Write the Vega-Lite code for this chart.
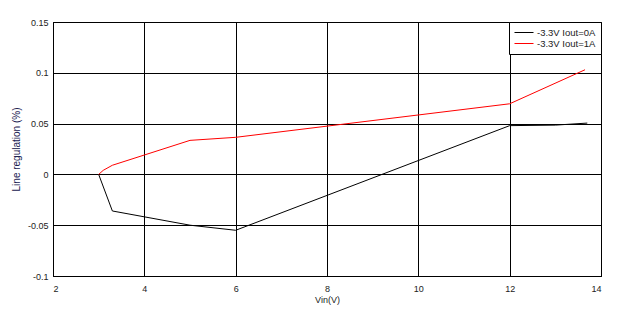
{
  "$schema": "https://vega.github.io/schema/vega-lite/v6.json",
  "width": 548,
  "height": 254,
  "autosize": "none",
  "padding": {"left": 53, "top": 22, "right": 21, "bottom": 42},
  "background": "white",
  "config": {
    "font": "Liberation Sans",
    "view": {"stroke": "black", "strokeWidth": 1},
    "axis": {
      "grid": true, "gridColor": "black", "gridOpacity": 1, "gridWidth": 1,
      "domainColor": "black", "ticks": false,
      "labelFont": "Liberation Sans", "labelFontSize": 9, "labelColor": "#222",
      "titleFont": "Liberation Sans", "titleFontSize": 9, "titleFontWeight": "normal", "titleColor": "#222"
    }
  },
  "data": {"values": [
    {"vin": 3.0, "reg": 0.0, "series": "-3.3V Iout=0A"},
    {"vin": 3.3, "reg": -0.036, "series": "-3.3V Iout=0A"},
    {"vin": 5.0, "reg": -0.05, "series": "-3.3V Iout=0A"},
    {"vin": 6.0, "reg": -0.055, "series": "-3.3V Iout=0A"},
    {"vin": 12.0, "reg": 0.048, "series": "-3.3V Iout=0A"},
    {"vin": 13.0, "reg": 0.0485, "series": "-3.3V Iout=0A"},
    {"vin": 13.7, "reg": 0.0505, "series": "-3.3V Iout=0A"},
    {"vin": 3.0, "reg": 0.0, "series": "-3.3V Iout=1A"},
    {"vin": 3.1, "reg": 0.004, "series": "-3.3V Iout=1A"},
    {"vin": 3.3, "reg": 0.009, "series": "-3.3V Iout=1A"},
    {"vin": 5.0, "reg": 0.0335, "series": "-3.3V Iout=1A"},
    {"vin": 6.0, "reg": 0.0365, "series": "-3.3V Iout=1A"},
    {"vin": 12.0, "reg": 0.0695, "series": "-3.3V Iout=1A"},
    {"vin": 13.65, "reg": 0.103, "series": "-3.3V Iout=1A"}
  ]},
  "mark": {"type": "line", "strokeWidth": 1, "interpolate": "linear"},
  "encoding": {
    "x": {"field": "vin", "type": "quantitative", "title": "Vin(V)",
      "scale": {"domain": [2, 14], "nice": false, "zero": false},
      "axis": {"values": [2, 4, 6, 8, 10, 12, 14], "labelPadding": 8, "titlePadding": 2}},
    "y": {"field": "reg", "type": "quantitative", "title": "Line regulation (%)",
      "scale": {"domain": [-0.1, 0.15], "nice": false, "zero": false},
      "axis": {"values": [-0.1, -0.05, 0, 0.05, 0.1, 0.15], "labelExpr": "'' + datum.value", "labelPadding": 5, "titlePadding": 6, "titleFontSize": 10, "titleColor": "#202050"}},
    "color": {"field": "series", "type": "nominal", "title": null,
      "scale": {"domain": ["-3.3V Iout=0A", "-3.3V Iout=1A"], "range": ["black", "red"]},
      "legend": {"orient": "top-right", "offset": 0, "strokeColor": "black", "fillColor": "white",
        "padding": 5, "symbolType": "stroke", "symbolSize": 361, "symbolStrokeWidth": 1,
        "clipHeight": 11, "rowPadding": 0,
        "labelFontSize": 9.5, "labelColor": "#222", "labelOffset": 3}}
  }
}
